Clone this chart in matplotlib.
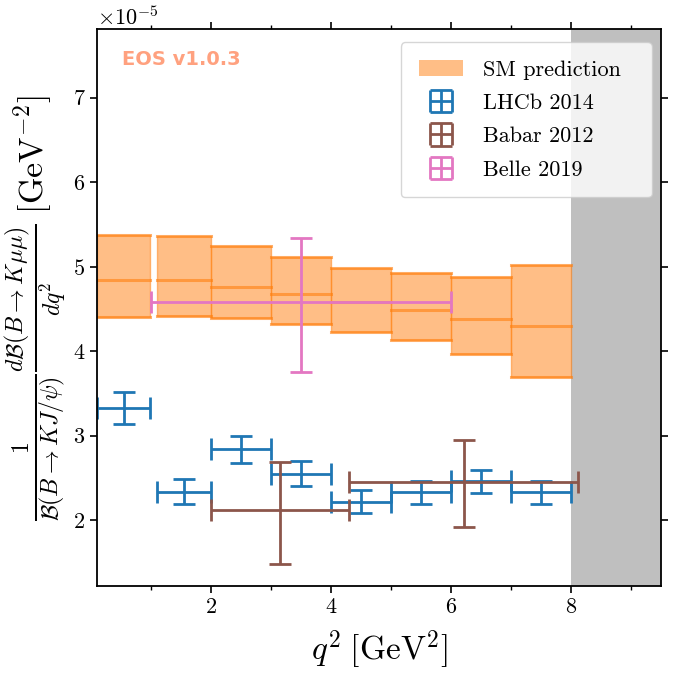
import matplotlib
matplotlib.use('Agg')
import matplotlib.pyplot as plt
from matplotlib.patches import Patch
import numpy as np

plt.rcParams['font.family'] = 'serif'
plt.rcParams['font.serif'] = ['cmr10', 'DejaVu Serif']
plt.rcParams['mathtext.fontset'] = 'cm'
plt.rcParams['axes.formatter.use_mathtext'] = True

# SM prediction bins (q^2 in GeV^2, values in 1e-5 GeV^-2)
sm_lo = [0.1, 1.1, 2.0, 3.0, 4.0, 5.0, 6.0, 7.0]
sm_hi = [0.98, 2.0, 3.0, 4.0, 5.0, 6.0, 7.0, 8.0]
sm_central = [4.84, 4.84, 4.76, 4.68, 4.58, 4.49, 4.38, 4.30]
sm_down = [4.40, 4.42, 4.39, 4.32, 4.23, 4.13, 3.97, 3.69]
sm_up = [5.38, 5.36, 5.24, 5.12, 4.99, 4.92, 4.88, 5.02]

# LHCb 2014
lhcb_lo = [0.1, 1.1, 2.0, 3.0, 4.0, 5.0, 6.0, 7.0]
lhcb_hi = [0.98, 2.0, 3.0, 4.0, 5.0, 6.0, 7.0, 8.0]
lhcb_val = [3.33, 2.34, 2.84, 2.55, 2.22, 2.33, 2.46, 2.33]
lhcb_err = [0.19, 0.15, 0.16, 0.15, 0.14, 0.14, 0.14, 0.14]

# Babar 2012
babar_lo = [2.0, 4.3]
babar_hi = [4.3, 8.12]
babar_val = [2.12, 2.455]
babar_err_up = [0.57, 0.49]
babar_err_dn = [0.64, 0.53]

# Belle 2019
belle_lo = [1.0]
belle_hi = [6.0]
belle_val = [4.58]
belle_err_up = [0.76]
belle_err_dn = [0.83]

scale = 1e-5


def bins_to_err(lo, hi):
    lo = np.array(lo)
    hi = np.array(hi)
    mid = 0.5 * (lo + hi)
    return mid, np.vstack([mid - lo, hi - mid])


fig = plt.figure(figsize=(6.8, 6.8), dpi=100)
ax = fig.add_axes([0.143, 0.138, 0.829, 0.819])

ax.axvspan(8.0, 10.0, color='gray', alpha=0.5, lw=0)

for lo, hi, c, d, u in zip(sm_lo, sm_hi, sm_central, sm_down, sm_up):
    ax.fill_between([lo, hi], [d * scale] * 2, [u * scale] * 2, color='C1', alpha=0.5, lw=1)
    for v in (d, c, u):
        ax.plot([lo, hi], [v * scale] * 2, color='C1', alpha=0.6, lw=2.2)

x, xe = bins_to_err(lhcb_lo, lhcb_hi)
lhcb = ax.errorbar(x, np.array(lhcb_val) * scale, xerr=xe, yerr=np.array(lhcb_err) * scale,
                   fmt='none', ecolor='C0', elinewidth=2, capsize=8, capthick=2)

x, xe = bins_to_err(babar_lo, babar_hi)
babar = ax.errorbar(x, np.array(babar_val) * scale, xerr=xe,
                    yerr=[np.array(babar_err_dn) * scale, np.array(babar_err_up) * scale],
                    fmt='none', ecolor='C5', elinewidth=2, capsize=8, capthick=2)

x, xe = bins_to_err(belle_lo, belle_hi)
belle = ax.errorbar(x, np.array(belle_val) * scale, xerr=xe,
                    yerr=[np.array(belle_err_dn) * scale, np.array(belle_err_up) * scale],
                    fmt='none', ecolor='C6', elinewidth=2, capsize=8, capthick=2)

ax.set_xlim(0.1, 9.5)
ax.set_ylim(1.22e-5, 7.81e-5)
ax.set_xticks([2, 4, 6, 8])
ax.set_xticks([1, 3, 5, 7, 9], minor=True)
ax.tick_params(which='both', direction='out', top=True, right=True, labelsize=16)
ax.tick_params(which='major', length=5, width=1.2)
ax.tick_params(which='minor', length=3, width=1)
ax.yaxis.get_offset_text().set_fontsize(16)
for s in ax.spines.values():
    s.set_linewidth(1.3)

ax.set_xlabel(r'$q^2\;[\mathrm{GeV}^2]$', fontsize=24, labelpad=8)
ax.set_ylabel(r'$\frac{1}{\mathcal{B}(B\to KJ/\psi)}\frac{d\mathcal{B}(B\to K\mu\mu)}{dq^2}\;[\mathrm{GeV}^{-2}]$',
              fontsize=24.5, labelpad=3)

ax.text(0.044, 0.945, 'EOS v1.0.3', transform=ax.transAxes, family='DejaVu Sans',
        fontweight='bold', fontsize=14, color='OrangeRed', alpha=0.5, va='center', ha='left')

sm_patch = Patch(color='C1', alpha=0.5, lw=0)
ax.legend([sm_patch, lhcb, babar, belle], ['SM prediction', 'LHCb 2014', 'Babar 2012', 'Belle 2019'],
          loc='upper right', bbox_to_anchor=(0.5385, 0.7, 0.445, 0.2767), mode='expand',
          borderaxespad=0, fontsize=16, labelspacing=0.62, handletextpad=0.9, borderpad=0.8)

fig.savefig('out.png', dpi=100)
